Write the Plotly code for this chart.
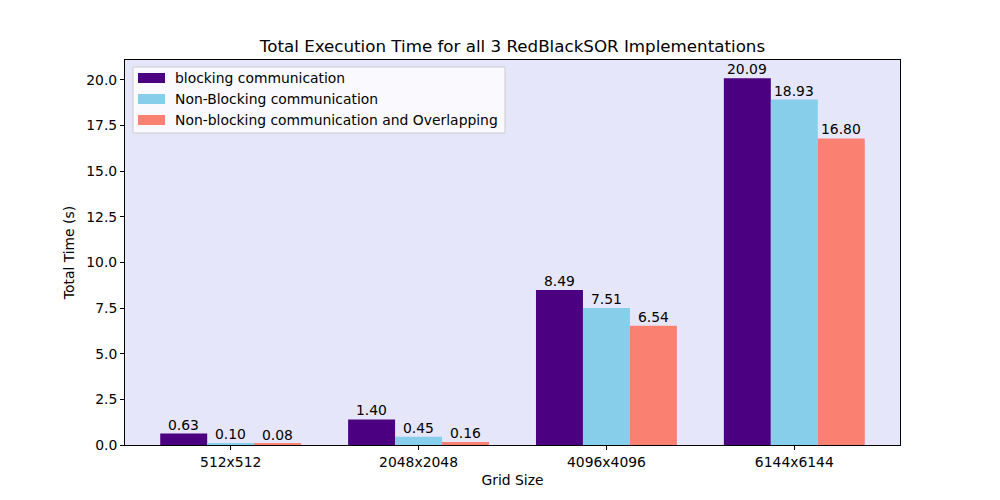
import plotly.graph_objects as go

categories = ["512x512", "2048x2048", "4096x4096", "6144x6144"]
blocking = [0.63, 1.40, 8.49, 20.09]
nonblocking = [0.10, 0.45, 7.51, 18.93]
overlapping = [0.08, 0.16, 6.54, 16.80]
series_names = ["blocking communication", "Non-Blocking communication",
                "Non-blocking communication and Overlapping"]
colors = ["#4B0082", "#87CEEB", "#FA8072"]
yticks = [0, 2.5, 5, 7.5, 10, 12.5, 15, 17.5, 20]

bar_width = 0.25
offsets = [-bar_width, 0.0, bar_width]
positions = list(range(len(categories)))

# plot-area geometry in pixels (for the hand-drawn matplotlib-style legend)
W, H = 1000, 500
L, R, T, B = 125, 100, 60, 55
PW, PH = W - L - R, H - T - B


def px(x):
    return (x - L) / PW


def py(y):
    return (H - B - y) / PH


fig = go.Figure()
annotations = []
shapes = []
for name, vals, c, off in zip(series_names, [blocking, nonblocking, overlapping], colors, offsets):
    xs = [p + off for p in positions]
    fig.add_trace(go.Bar(
        x=xs, y=vals, name=name, width=bar_width, showlegend=False,
        marker=dict(color=c, line=dict(width=0)),
    ))
    for x, v in zip(xs, vals):
        annotations.append(dict(x=x, y=v, xref="x", yref="y", text=f"{v:.2f}",
                                showarrow=False, yanchor="bottom", xanchor="center",
                                yshift=-1, font=dict(size=13.9, color="black")))

# legend box
shapes.append(dict(type="rect", xref="paper", yref="paper",
                   x0=px(133), x1=px(505), y0=py(133), y1=py(67),
                   fillcolor="rgba(255,255,255,0.8)", line=dict(color="#cccccc", width=1),
                   layer="above"))
for i, (name, c) in enumerate(zip(series_names, colors)):
    yc = 78 + 21 * i
    shapes.append(dict(type="rect", xref="paper", yref="paper",
                       x0=px(138), x1=px(165), y0=py(yc + 5), y1=py(yc - 5),
                       fillcolor=c, line=dict(width=0), layer="above"))
    annotations.append(dict(x=px(173), y=py(yc), xref="paper", yref="paper", text=name,
                            showarrow=False, xanchor="left", yanchor="middle",
                            font=dict(size=13.9, color="black")))

font = "DejaVu Sans, sans-serif"
fig.update_layout(
    width=W, height=H,
    margin=dict(l=L, r=R, t=T, b=B),
    paper_bgcolor="white", plot_bgcolor="#E6E6FA",
    barmode="overlay",
    font=dict(family=font, size=13.9, color="black"),
    title=dict(text="Total Execution Time for all 3 RedBlackSOR Implementations",
               x=0.5, xref="paper", xanchor="center", y=1 - 46 / 500, yanchor="middle",
               font=dict(size=16.7)),
    showlegend=False,
    annotations=annotations,
    shapes=shapes,
    xaxis=dict(title=dict(text="Grid Size", font=dict(size=13.9), standoff=6),
               range=[-0.5625, 3.5625], showline=True, mirror=True, linecolor="black",
               linewidth=1, ticks="outside", ticklen=4, tickcolor="black",
               tickvals=positions, ticktext=categories,
               showgrid=False, zeroline=False),
    yaxis=dict(title=dict(text="Total Time (s)", font=dict(size=13.9), standoff=8),
               range=[0, 21.0945], showline=True, mirror=True, linecolor="black",
               linewidth=1, ticks="outside", ticklen=4, tickcolor="black",
               tickvals=yticks, ticktext=[f"{v:.1f}" for v in yticks],
               showgrid=False, zeroline=False),
)
fig.write_html("out.html")
